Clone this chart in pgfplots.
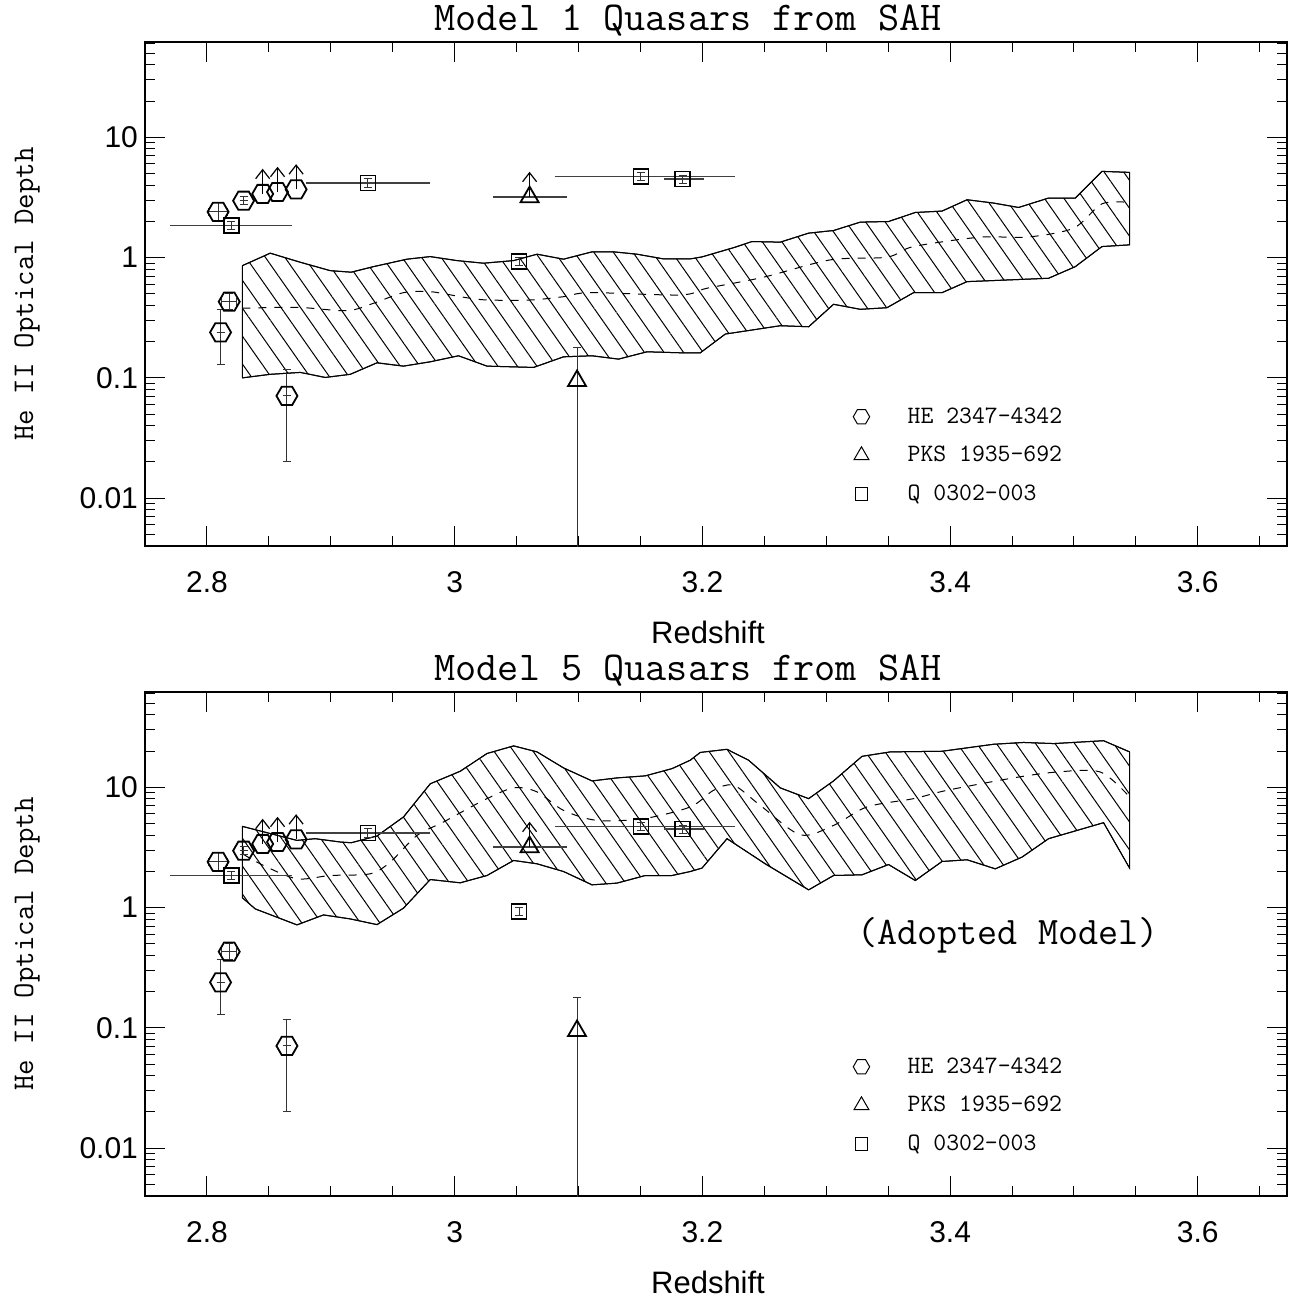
\documentclass[border=0pt]{standalone}
\usepackage{fontspec}
\usepackage{pgfplots}
\usepackage{pgfplotstable}
\pgfplotsset{compat=1.18}
\usepgfplotslibrary{fillbetween}
\usetikzlibrary{patterns.meta,arrows.meta}

\newfontfamily\arial{Liberation Sans}
\newcommand\tickfont{\arial\fontsize{15}{18}\selectfont}
\newcommand\xlabfont{\arial\fontsize{15.5}{18}\selectfont}
\newcommand\monofont[1]{\ttfamily\fontsize{#1}{#1}\selectfont}

% hexagon mark, pointy left and right
\pgfdeclareplotmark{hexagon}{%
  \pgfpathmoveto{\pgfqpoint{\pgfplotmarksize}{0pt}}%
  \pgfpathlineto{\pgfqpoint{0.5\pgfplotmarksize}{0.866\pgfplotmarksize}}%
  \pgfpathlineto{\pgfqpoint{-0.5\pgfplotmarksize}{0.866\pgfplotmarksize}}%
  \pgfpathlineto{\pgfqpoint{-\pgfplotmarksize}{0pt}}%
  \pgfpathlineto{\pgfqpoint{-0.5\pgfplotmarksize}{-0.866\pgfplotmarksize}}%
  \pgfpathlineto{\pgfqpoint{0.5\pgfplotmarksize}{-0.866\pgfplotmarksize}}%
  \pgfpathclose
  \pgfusepathqstroke}

% model 1 band
\pgfplotstableread{
x y
2.8287 0.858
2.8511 1.088
2.8753 0.915
2.8995 0.779
2.9165 0.756
2.9345 0.841
2.9615 0.970
2.9803 1.019
3.0019 0.944
3.0233 0.898
3.0476 0.944
3.0665 1.067
3.0879 0.970
3.1109 1.116
3.1283 1.116
3.1472 1.067
3.1687 0.975
3.1902 0.975
3.1997 1.013
3.2266 1.221
3.2400 1.359
3.2629 1.344
3.2858 1.597
3.3059 1.679
3.3275 1.972
3.3503 1.995
3.3719 2.371
3.3935 2.436
3.4137 3.026
3.4351 2.840
3.4553 2.610
3.4795 3.126
3.5011 3.126
3.5226 5.21
3.5449 5.11
}\upA
\pgfplotstableread{
x y
2.8287 0.100
2.8511 0.107
2.8753 0.111
2.8955 0.1008
2.9157 0.107
2.9373 0.1334
2.9587 0.1252
2.9803 0.136
3.0031 0.1526
3.0261 0.1252
3.0637 0.1221
3.0879 0.1496
3.1109 0.1526
3.1323 0.1432
3.1553 0.1647
3.1822 0.1616
3.1983 0.1616
3.2185 0.2313
3.2629 0.2713
3.2858 0.266
3.3059 0.409
3.3275 0.3715
3.3490 0.383
3.3705 0.511
3.3935 0.511
3.4137 0.631
3.4795 0.673
3.5011 0.841
3.5226 1.235
3.5449 1.276
}\loA
\pgfplotstableread{
x y
2.8287 0.379
2.8727 0.386
2.9130 0.362
2.9345 0.417
2.9587 0.511
2.9803 0.521
3.0072 0.468
3.0261 0.444
3.0610 0.444
3.0879 0.473
3.1095 0.511
3.1822 0.489
3.2037 0.556
3.2494 0.687
3.3033 0.957
3.3490 1.008
3.3705 1.235
3.4244 1.479
3.4621 1.479
3.4997 1.758
3.5226 2.80
3.5449 2.87
}\midA

% model 5 band
\pgfplotstableread{
x y
2.8287 4.73
2.8727 3.62
2.8874 3.74
2.9076 3.51
2.9165 3.46
2.9373 3.94
2.9587 5.67
2.9803 10.7
3.0045 13.6
3.0261 19.1
3.0476 22.1
3.0665 19.7
3.0879 14.5
3.1109 11.3
3.1310 11.97
3.1539 12.45
3.1755 14.3
3.1902 16.8
3.1983 19.5
3.2199 20.7
3.2373 16.8
3.2629 9.89
3.2858 8.05
3.3059 11.3
3.3289 18.1
3.3517 19.7
3.3935 19.95
3.4351 22.8
3.4593 23.6
3.4836 23.1
3.5239 24.4
3.5449 19.7
}\upB
\pgfplotstableread{
x y
2.8287 1.205
2.8390 0.975
2.8727 0.718
2.8941 0.869
2.9157 0.805
2.9373 0.722
2.9587 0.989
2.9803 1.711
3.0045 1.607
3.0261 1.848
3.0476 2.465
3.0665 2.312
3.0879 1.995
3.1109 1.546
3.1310 1.597
3.1539 1.848
3.1755 1.848
3.1902 1.995
3.1997 2.13
3.2199 3.74
3.2508 2.31
3.2858 1.404
3.3059 1.848
3.3289 1.873
3.3503 2.28
3.3719 1.679
3.3935 2.417
3.4137 2.497
3.4365 2.10
3.4581 2.63
3.4795 3.74
3.5239 5.08
3.5449 2.13
}\loB
\pgfplotstableread{
x y
2.8287 2.80
2.8457 2.24
2.8727 1.735
2.8996 1.848
2.9319 1.91
2.9480 2.39
2.9696 3.98
2.9910 5.15
3.0233 7.79
3.0476 9.89
3.0665 9.16
3.0879 6.43
3.1149 5.31
3.1525 5.49
3.1902 6.87
3.2090 9.44
3.2252 10.4
3.2467 7.08
3.2790 4.03
3.3059 4.82
3.3329 6.87
3.3705 8.05
3.3975 9.44
3.4513 11.98
3.4863 13.4
3.5213 13.4
3.5449 8.32
}\midB

% settings shared by both panels
\pgfplotsset{
  width=571pt, height=252pt, scale only axis,
  xmin=2.75, xmax=3.672, ymin=0.004, ymax=62,
  xtick={2.8,3,3.2,3.4,3.6}, xticklabels={2.8,3,3.2,3.4,3.6},
  minor xtick={2.75,2.85,2.9,2.95,3.05,3.1,3.15,3.25,3.3,3.35,3.45,3.5,3.55,3.65},
  ytick={0.01,0.1,1,10}, yticklabels={0.01,0.1,1,10},
  minor ytick={0.005,0.006,0.007,0.008,0.009,0.02,0.03,0.04,0.05,0.06,0.07,0.08,0.09,
    0.2,0.3,0.4,0.5,0.6,0.7,0.8,0.9,2,3,4,5,6,7,8,9,20,30,40,50,60},
  major tick length=10pt, minor tick length=5pt,
  tick style={black, line width=0.5pt},
  axis line style={line width=1pt},
  ticklabel style={font=\tickfont},
  xticklabel style={yshift=-9pt},
  xlabel={Redshift},
  xlabel style={font=\xlabfont, at={(axis description cs:0.493,-0.1706)}, anchor=center},
  ylabel={He II Optical Depth},
  ylabel style={font=\monofont{15}, at={(axis description cs:-0.1033,0.5)}, anchor=center},
  every axis title shift=0pt,
  title style={font=\monofont{20.5}, at={(axis description cs:0.4755,1.042)}, anchor=center},
  legend style={at={(rel axis cs:0.6146,0.2916)}, anchor=north west, draw=none, fill=none,
    font=\monofont{12.5}, row sep=6pt,
    /tikz/every odd column/.append style={column sep=17pt}},
  legend cell align=left,
  error bars/error bar style={line width=0.5pt, black!80},
  error bars/error mark options={rotate=90, mark size=2pt, line width=0.5pt},
}
\tikzset{
  bandline/.style={black, line width=0.5pt},
  hbar/.style={black!75, line width=0.6pt},
  lim/.style={black, line width=0.6pt, -{Straight Barb[length=4.5pt,width=7pt]}},
  keymark/.style={only marks, mark options={line width=0.5pt}},
}

\newcommand\drawband[3]{%
  \addplot[forget plot, bandline, name path=up] table {#1};
  \addplot[forget plot, bandline, name path=lo] table {#2};
  \addplot[forget plot, draw=black, line width=0.5pt,
    pattern={Lines[angle=-55,distance=8pt,line width=0.5pt]}] fill between[of=up and lo];
  \addplot[forget plot, bandline, smooth, dash pattern=on 4pt off 4pt] table {#3};
}

\newcommand\quasars{%
  % redshift ranges
  \addplot[forget plot, hbar] coordinates {(2.770,1.85) (2.869,1.85)};
  \addplot[forget plot, hbar] coordinates {(2.880,4.17) (2.980,4.17)};
  \addplot[forget plot, hbar] coordinates {(3.0807,4.73) (3.226,4.73)};
  \addplot[forget plot, hbar] coordinates {(3.169,4.5) (3.201,4.5)};
  \addplot[forget plot, hbar] coordinates {(3.0306,3.19) (3.0907,3.19)};
  % lower limits
  \addplot[forget plot, lim] coordinates {(2.845,3.38) (2.845,5.48)};
  \addplot[forget plot, lim] coordinates {(2.857,3.51) (2.857,5.69)};
  \addplot[forget plot, lim] coordinates {(2.872,3.69) (2.872,5.98)};
  \addplot[forget plot, lim] coordinates {(3.0605,3.19) (3.0605,5.17)};
  % HE 2347-4342
  \addplot[forget plot, only marks, mark=hexagon, mark size=5.25pt, mark options={line width=0.9pt},
    error bars/x dir=both, error bars/x explicit,
    error bars/y dir=both, error bars/y explicit] coordinates {
    (2.809,2.40) += (0.008,0.45) -= (0.008,0.38)
    (2.8296,2.97) += (0,0.22) -= (0,0.22)
    (2.845,3.38) (2.857,3.51) (2.872,3.69)
    (2.818,0.43) += (0.006,0.075) -= (0.006,0.063)
    (2.811,0.239) += (0,0.128) -= (0,0.109)
    (2.8646,0.0708) += (0,0.047) -= (0,0.0508)
  };
  % PKS 1935-692
  \addplot[forget plot, only marks, mark=triangle, mark size=5.2pt, mark options={line width=0.9pt},
    error bars/y dir=both, error bars/y explicit] coordinates {
    (3.0605,3.19)
    (3.0988,0.0944) += (0,0.085) -= (0,0.0939)
  };
  % Q 0302-003
  \addplot[forget plot, only marks, mark=square, mark size=3.75pt, mark options={line width=0.9pt},
    error bars/y dir=both, error bars/y explicit] coordinates {
    (2.8196,1.85) +- (0,0.15)
    (2.930,4.17) +- (0,0.35)
    (3.052,0.926) +- (0,0.07)
    (3.1504,4.73) +- (0,0.35)
    (3.184,4.5) +- (0,0.35)
  };
  % key
  \addlegendimage{keymark, mark=hexagon, mark size=4.1pt}
  \addlegendentry{HE 2347-4342}
  \addlegendimage{keymark, mark=triangle, mark size=4.3pt}
  \addlegendentry{PKS 1935-692}
  \addlegendimage{keymark, mark=square, mark size=3.1pt}
  \addlegendentry{Q 0302-003}
}

\begin{document}
\begin{tikzpicture}
\begin{semilogyaxis}[at={(72.5pt,-273pt)}, anchor=south west,
  title={Model 1 Quasars from SAH}]
  \drawband{\upA}{\loA}{\midA}
  \quasars
\end{semilogyaxis}
\begin{semilogyaxis}[at={(72.5pt,-598pt)}, anchor=south west,
  title={Model 5 Quasars from SAH}]
  \drawband{\upB}{\loB}{\midB}
  \quasars
  \node[font=\monofont{19.5}] at (rel axis cs:0.7557,0.518) {(Adopted Model)};
\end{semilogyaxis}
\pgfresetboundingbox
\path[use as bounding box] (0pt,0pt) rectangle (651.5pt,-650.5pt);
\end{tikzpicture}
\end{document}
